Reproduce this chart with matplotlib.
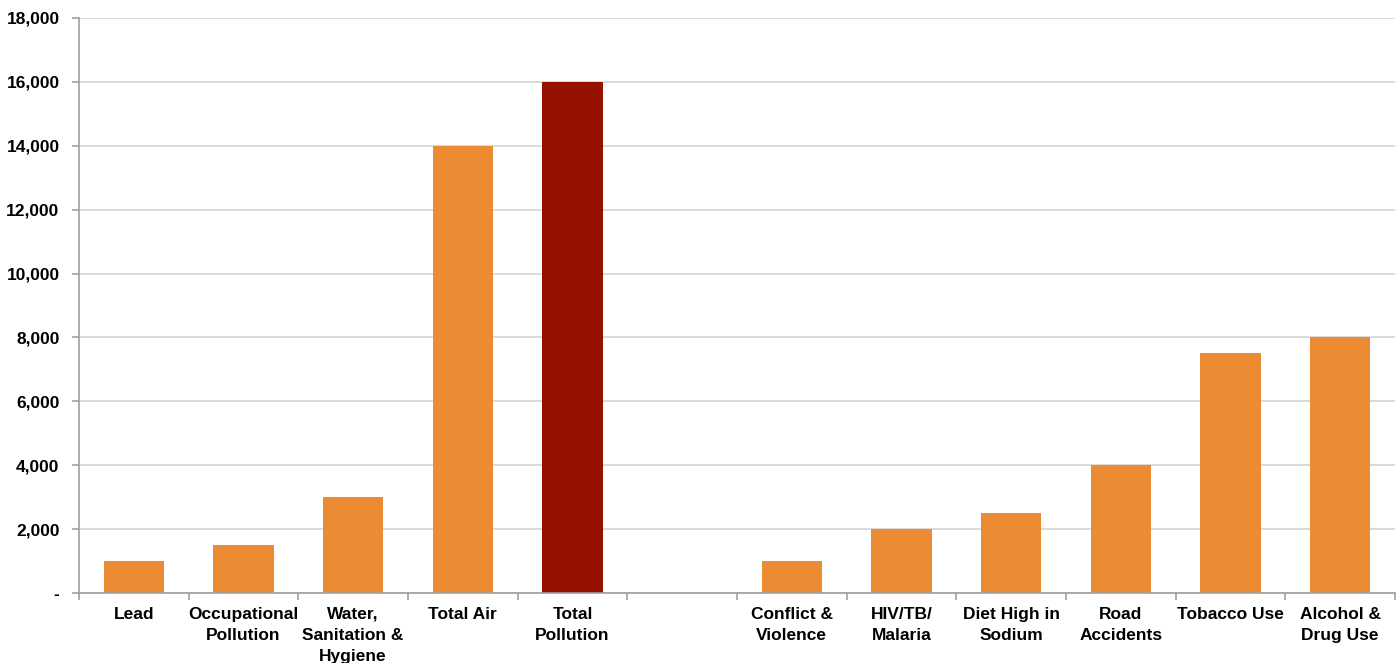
import matplotlib
matplotlib.use("Agg")
import matplotlib.pyplot as plt
import numpy as np
from matplotlib.ticker import FuncFormatter, FixedLocator

categories = ["Lead", "Occupational\nPollution", "Water,\nSanitation &\nHygiene", "Total Air",
              "Total\nPollution", "", "Conflict &\nViolence", "HIV/TB/\nMalaria",
              "Diet High in\nSodium", "Road\nAccidents", "Tobacco Use", "Alcohol &\nDrug Use"]
values = [1000, 1500, 3000, 14000, 16000, 0, 1000, 2000, 2500, 4000, 7500, 8000]
highlight = "Total\nPollution"

ORANGE = "#EB8C35"
DARKRED = "#941100"

plt.rcParams['font.family'] = ['Liberation Sans', 'DejaVu Sans']

fig = plt.figure(figsize=(13.98, 6.63), dpi=100)
ax = fig.add_axes([79/1398, 70/663, 1316/1398, 575/663])

x = np.arange(len(categories))
colors = [DARKRED if c == highlight else ORANGE for c in categories]
ax.bar(x, values, width=0.55, color=colors, zorder=3)

ax.set_xlim(-0.5, len(categories) - 0.5)
ax.set_ylim(0, 18000)
ax.set_yticks(np.arange(0, 18001, 2000))
ax.yaxis.set_major_formatter(FuncFormatter(lambda v, p: "-" if v == 0 else f"{int(v):,}"))
ax.grid(axis='y', color='#D4D4D4', linewidth=1.2, zorder=0)

ax.set_xticks(x)
ax.set_xticklabels(categories, fontsize=12.5, fontweight='bold', linespacing=1.5, va='top')
ax.xaxis.set_minor_locator(FixedLocator(np.arange(-0.5, len(categories), 1.0)))
ax.tick_params(axis='x', which='major', length=0, pad=10)
ax.tick_params(axis='x', which='minor', length=5, color='#A0A0A0', width=1.2)
ax.tick_params(axis='y', length=5, color='#A0A0A0', width=1.2, pad=9, labelsize=12.5)
for lbl in ax.get_yticklabels():
    lbl.set_fontweight('bold')

for s in ['top', 'right']:
    ax.spines[s].set_visible(False)
for s in ['left', 'bottom']:
    ax.spines[s].set_color('#A0A0A0')
    ax.spines[s].set_linewidth(1.2)
    ax.spines[s].set_zorder(4)

fig.savefig("out.png", dpi=100)
